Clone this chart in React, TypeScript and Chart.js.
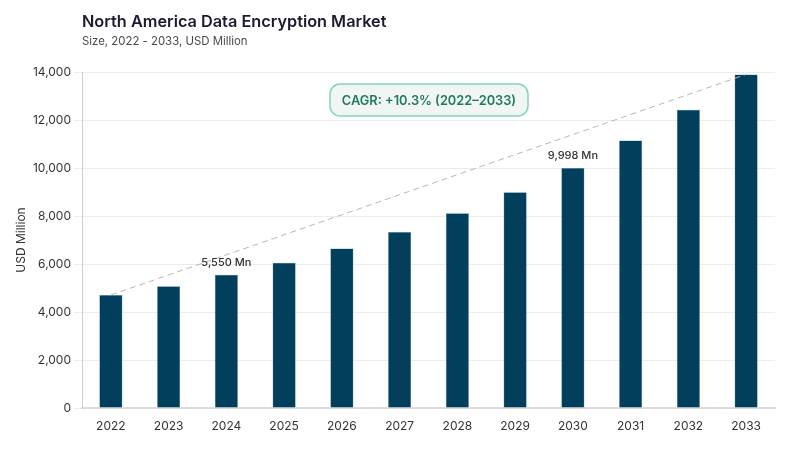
import React, { useEffect, useRef } from 'react';
import { Chart, registerables } from 'chart.js';

Chart.register(...registerables);

const years = ['2022', '2023', '2024', '2025', '2026', '2027', '2028', '2029', '2030', '2031', '2032', '2033'];
const marketSize = [4710, 5070, 5550, 6050, 6650, 7330, 8110, 8990, 9998, 11150, 12430, 13900];
// only the labelled bars get a value callout
const calloutYears = ['2024', '2030'];
const cagrText = 'CAGR: +10.3% (2022–2033)';
const titleText = 'North America Data Encryption Market';
const subtitleText = 'Size, 2022 - 2033, USD Million';

const FONT = 'Inter, "Noto Sans", sans-serif';

// trend line: first and last bar tops, gaps spanned
const trendLine = marketSize.map((v, i) => (i === 0 || i === marketSize.length - 1 ? v : null));

const overlayPlugin = {
    id: 'overlay',
    afterDraw(chart: any) {
        const { ctx, chartArea, scales } = chart;
        ctx.save();

        // title + subtitle
        ctx.textAlign = 'left';
        ctx.textBaseline = 'alphabetic';
        ctx.fillStyle = '#1b1b2f';
        ctx.font = `600 16.3px ${FONT}`;
        ctx.fillText(titleText, chartArea.left, 27);
        ctx.fillStyle = '#4a4a4a';
        ctx.font = `400 11.4px ${FONT}`;
        ctx.fillText(subtitleText, chartArea.left, 45);

        // value callouts
        ctx.fillStyle = '#333';
        ctx.font = `500 11px ${FONT}`;
        ctx.textAlign = 'center';
        ctx.textBaseline = 'bottom';
        calloutYears.forEach((yr) => {
            const i = years.indexOf(yr);
            const x = scales.x.getPixelForValue(i);
            const y = scales.y.getPixelForValue(marketSize[i]);
            ctx.fillText(`${marketSize[i].toLocaleString('en-US')} Mn`, x, y - 7);
        });

        // CAGR badge
        const bx = 330, by = 84, bw = 198, bh = 32, r = 10;
        ctx.beginPath();
        ctx.roundRect(bx, by, bw, bh, r);
        ctx.fillStyle = '#f1f6f5';
        ctx.fill();
        ctx.lineWidth = 1.5;
        ctx.strokeStyle = '#7fd6b6';
        ctx.stroke();
        ctx.fillStyle = '#1d7a5c';
        ctx.font = `600 12.8px ${FONT}`;
        ctx.textBaseline = 'middle';
        ctx.fillText(cagrText, bx + bw / 2, by + bh / 2 + 1);

        ctx.restore();
    },
};

const App: React.FC = () => {
    const canvasRef = useRef<HTMLCanvasElement>(null);

    useEffect(() => {
        if (!canvasRef.current) return;
        document.body.style.margin = '0';

        const chart = new Chart(canvasRef.current, {
            type: 'bar',
            data: {
                labels: years,
                datasets: [
                    {
                        type: 'line',
                        data: trendLine,
                        spanGaps: true,
                        borderColor: '#bfb3b7',
                        borderWidth: 1,
                        borderDash: [6, 4],
                        pointRadius: 0,
                        order: 0,
                    } as any,
                    {
                        type: 'bar',
                        data: marketSize,
                        backgroundColor: '#023f5c',
                        borderColor: '#5f8aa0',
                        borderWidth: 0.5,
                        categoryPercentage: 1,
                        barPercentage: 0.4,
                        order: 1,
                    },
                ],
            },
            options: {
                animation: false,
                responsive: false,
                layout: { padding: { left: 10, right: 25, top: 72, bottom: 0 } },
                plugins: {
                    legend: { display: false },
                    tooltip: { enabled: false },
                },
                scales: {
                    x: {
                        grid: { display: false, drawTicks: false },
                        border: { color: '#dcdcdc', width: 2 },
                        ticks: { color: '#333', font: { family: FONT, size: 12 }, padding: 11 },
                        afterFit: (scale: any) => { scale.height = 42; },
                    },
                    y: {
                        min: 0,
                        max: 14000,
                        ticks: {
                            stepSize: 2000,
                            color: '#333',
                            font: { family: FONT, size: 12 },
                            padding: 3,
                            callback: (v: any) => Number(v).toLocaleString('en-US'),
                        },
                        grid: { color: '#ececec', tickLength: 8 },
                        border: { color: '#cfcfcf', width: 1 },
                        title: {
                            display: true,
                            text: 'USD Million',
                            color: '#333',
                            font: { family: FONT, size: 12 },
                        },
                        afterFit: (scale: any) => { scale.width = 72; },
                    },
                },
            },
            plugins: [overlayPlugin],
        });

        return () => chart.destroy();
    }, []);

    return <canvas ref={canvasRef} width={800} height={450} style={{ display: 'block' }} />;
};

export default App;
